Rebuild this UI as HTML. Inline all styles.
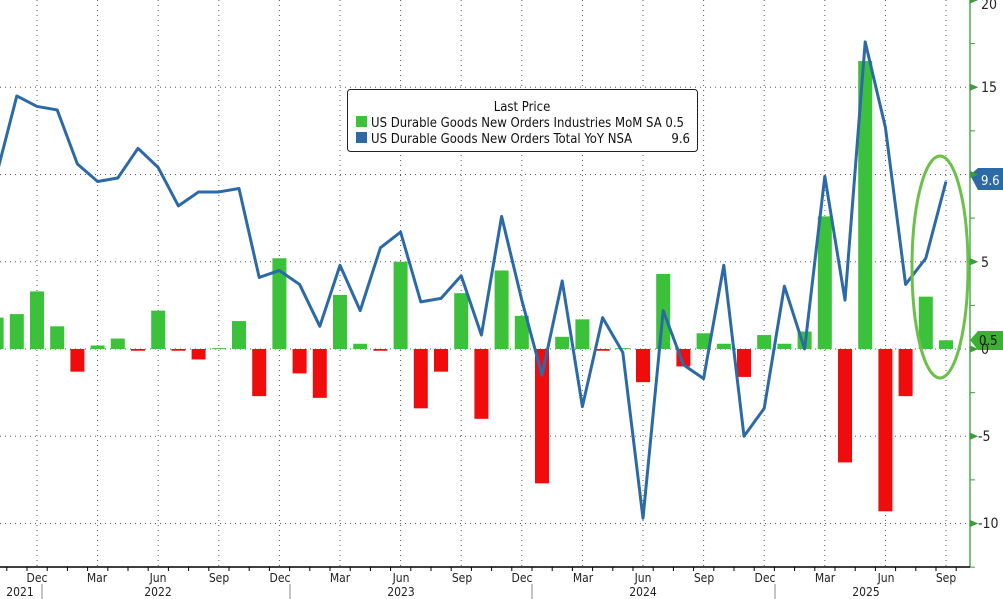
<!DOCTYPE html>
<html><head><meta charset="utf-8"><style>
html,body{margin:0;padding:0;background:#fff;}
svg{display:block;font-family:"DejaVu Sans Condensed","Liberation Sans",sans-serif;}
</style></head><body>
<svg id="c" width="1003" height="599" xmlns="http://www.w3.org/2000/svg">
<g id="grid" stroke="#555" stroke-width="1" stroke-dasharray="1,4"></g>
<g id="bars"></g>
<polyline id="line" fill="none" stroke="#2c6aa7" stroke-width="3" stroke-linejoin="round"/>
<ellipse cx="940" cy="267" rx="28" ry="111" fill="none" stroke="#6cc04a" stroke-width="3"/>
<line x1="970" y1="0" x2="970" y2="567" stroke="#4caf50" stroke-width="1.5"/>
<line x1="0" y1="567" x2="970" y2="567" stroke="#000" stroke-width="1.5"/>
<polygon points="970,175 978,168 1003,168 1003,190 978,190" fill="#2c6aa7"/>
<text x="981" y="185" font-size="13" fill="#fff">9.6</text>
<polygon points="970,340 978,331 1003,331 1003,350 978,350" fill="#3cb033"/>
<text x="979" y="345" font-size="13" fill="#111">0.5</text>
<rect x="347.5" y="89.5" width="350" height="62" rx="3" fill="#fff" stroke="#222"/>
<text x="522" y="111" font-size="13" text-anchor="middle" fill="#111">Last Price</text>
<rect x="356" y="116" width="11" height="11" fill="#3cc13b"/>
<text x="371" y="127" font-size="13" fill="#111">US Durable Goods New Orders Industries MoM SA 0.5</text>
<rect x="356" y="132" width="11" height="11" fill="#2c6aa7"/>
<text x="371" y="143" font-size="13" fill="#111">US Durable Goods New Orders Total YoY NSA</text>
<text x="690" y="143" font-size="13" fill="#111" text-anchor="end">9.6</text>
<g font-size="12" fill="#222" text-anchor="middle">
<text x="20" y="596">2021</text><text x="158" y="596">2022</text><text x="401" y="596">2023</text><text x="643" y="596">2024</text><text x="866" y="596">2025</text>
<text x="37" y="582">Dec</text><text x="97" y="582">Mar</text><text x="158" y="582">Jun</text><text x="219" y="582">Sep</text>
<text x="280" y="582">Dec</text><text x="340" y="582">Mar</text><text x="401" y="582">Jun</text><text x="462" y="582">Sep</text>
<text x="522" y="582">Dec</text><text x="583" y="582">Mar</text><text x="643" y="582">Jun</text><text x="704" y="582">Sep</text>
<text x="765" y="582">Dec</text><text x="825" y="582">Mar</text><text x="886" y="582">Jun</text><text x="946" y="582">Sep</text>
</g>
<g fill="#222" font-size="14">
<text x="981" y="9">20</text><text x="981" y="92">15</text><text x="981" y="267">5</text><text x="981" y="354">0</text><text x="978" y="441">-5</text><text x="978" y="528">-10</text>
</g>
</svg>
<script>
var ns="http://www.w3.org/2000/svg",s=document.getElementById('c');
function X(i){return 37+(i-2)*20.2;}function Y(v){return 349-v*17.45;}
function el(p,t,a){var e=document.createElementNS(ns,t);for(var k in a)e.setAttribute(k,a[k]);p.appendChild(e);return e;}
var line=[10,14.5,13.9,13.7,10.6,9.6,9.8,11.5,10.4,8.2,9,9,9.2,4.1,4.5,3.7,1.3,4.8,2.2,5.8,6.7,2.7,2.9,4.2,0.8,7.6,2.8,-1.5,3.9,-3.3,1.8,-0.2,-9.7,2.2,-0.9,-1.7,4.8,-5,-3.4,3.6,0,9.9,2.8,17.6,12.7,3.7,5.2,9.6];
var bars=[1.8,2.0,3.3,1.3,-1.3,0.2,0.6,-0.1,2.2,-0.1,-0.6,0.05,1.6,-2.7,5.2,-1.4,-2.8,3.1,0.3,-0.1,5.0,-3.4,-1.3,3.2,-4.0,4.5,1.9,-7.7,0.7,1.7,-0.1,0.05,-1.9,4.3,-1.0,0.9,0.3,-1.6,0.8,0.3,1.0,7.6,-6.5,16.5,-9.3,-2.7,3.0,0.5];
var g=document.getElementById('grid');
[15,10,5,0,-5,-10].forEach(function(v){el(g,'line',{x1:0,x2:970,y1:Y(v),y2:Y(v)});});
for(var i=2;i<48;i+=3)el(g,'line',{x1:X(i),x2:X(i),y1:0,y2:567});
var b=document.getElementById('bars');
bars.forEach(function(v,i){var x=X(i)-7,y0=Y(0),y1=Y(v);el(b,'rect',{x:x,width:14,y:Math.min(y0,y1),height:Math.max(1,Math.abs(y1-y0)),fill:v>=0?'#3cc13b':'#f00c0c'});});
document.getElementById('line').setAttribute('points',line.map(function(v,i){return X(i)+','+Y(v);}).join(' '));
[20,17.5,15,12.5,10,7.5,5,2.5,0,-2.5,-5,-7.5,-10,-12.5].forEach(function(v){var y=Y(v);el(s,'polygon',{points:(v%5==0?'970,'+(y-3)+' 977,'+y+' 970,'+(y+3):'970,'+y+' 975,'+y+' 970,'+y),fill:'#3a9e3a',stroke:'#3a9e3a','stroke-width':1});});
for(var i=0;i<49;i++)el(s,'line',{x1:X(i)-10,x2:X(i)-10,y1:567,y2:571,stroke:'#000'});
[42,290,532,775].forEach(function(x){el(s,'line',{x1:x,x2:x,y1:584,y2:599,stroke:'#888'});});
</script>
</body></html>
